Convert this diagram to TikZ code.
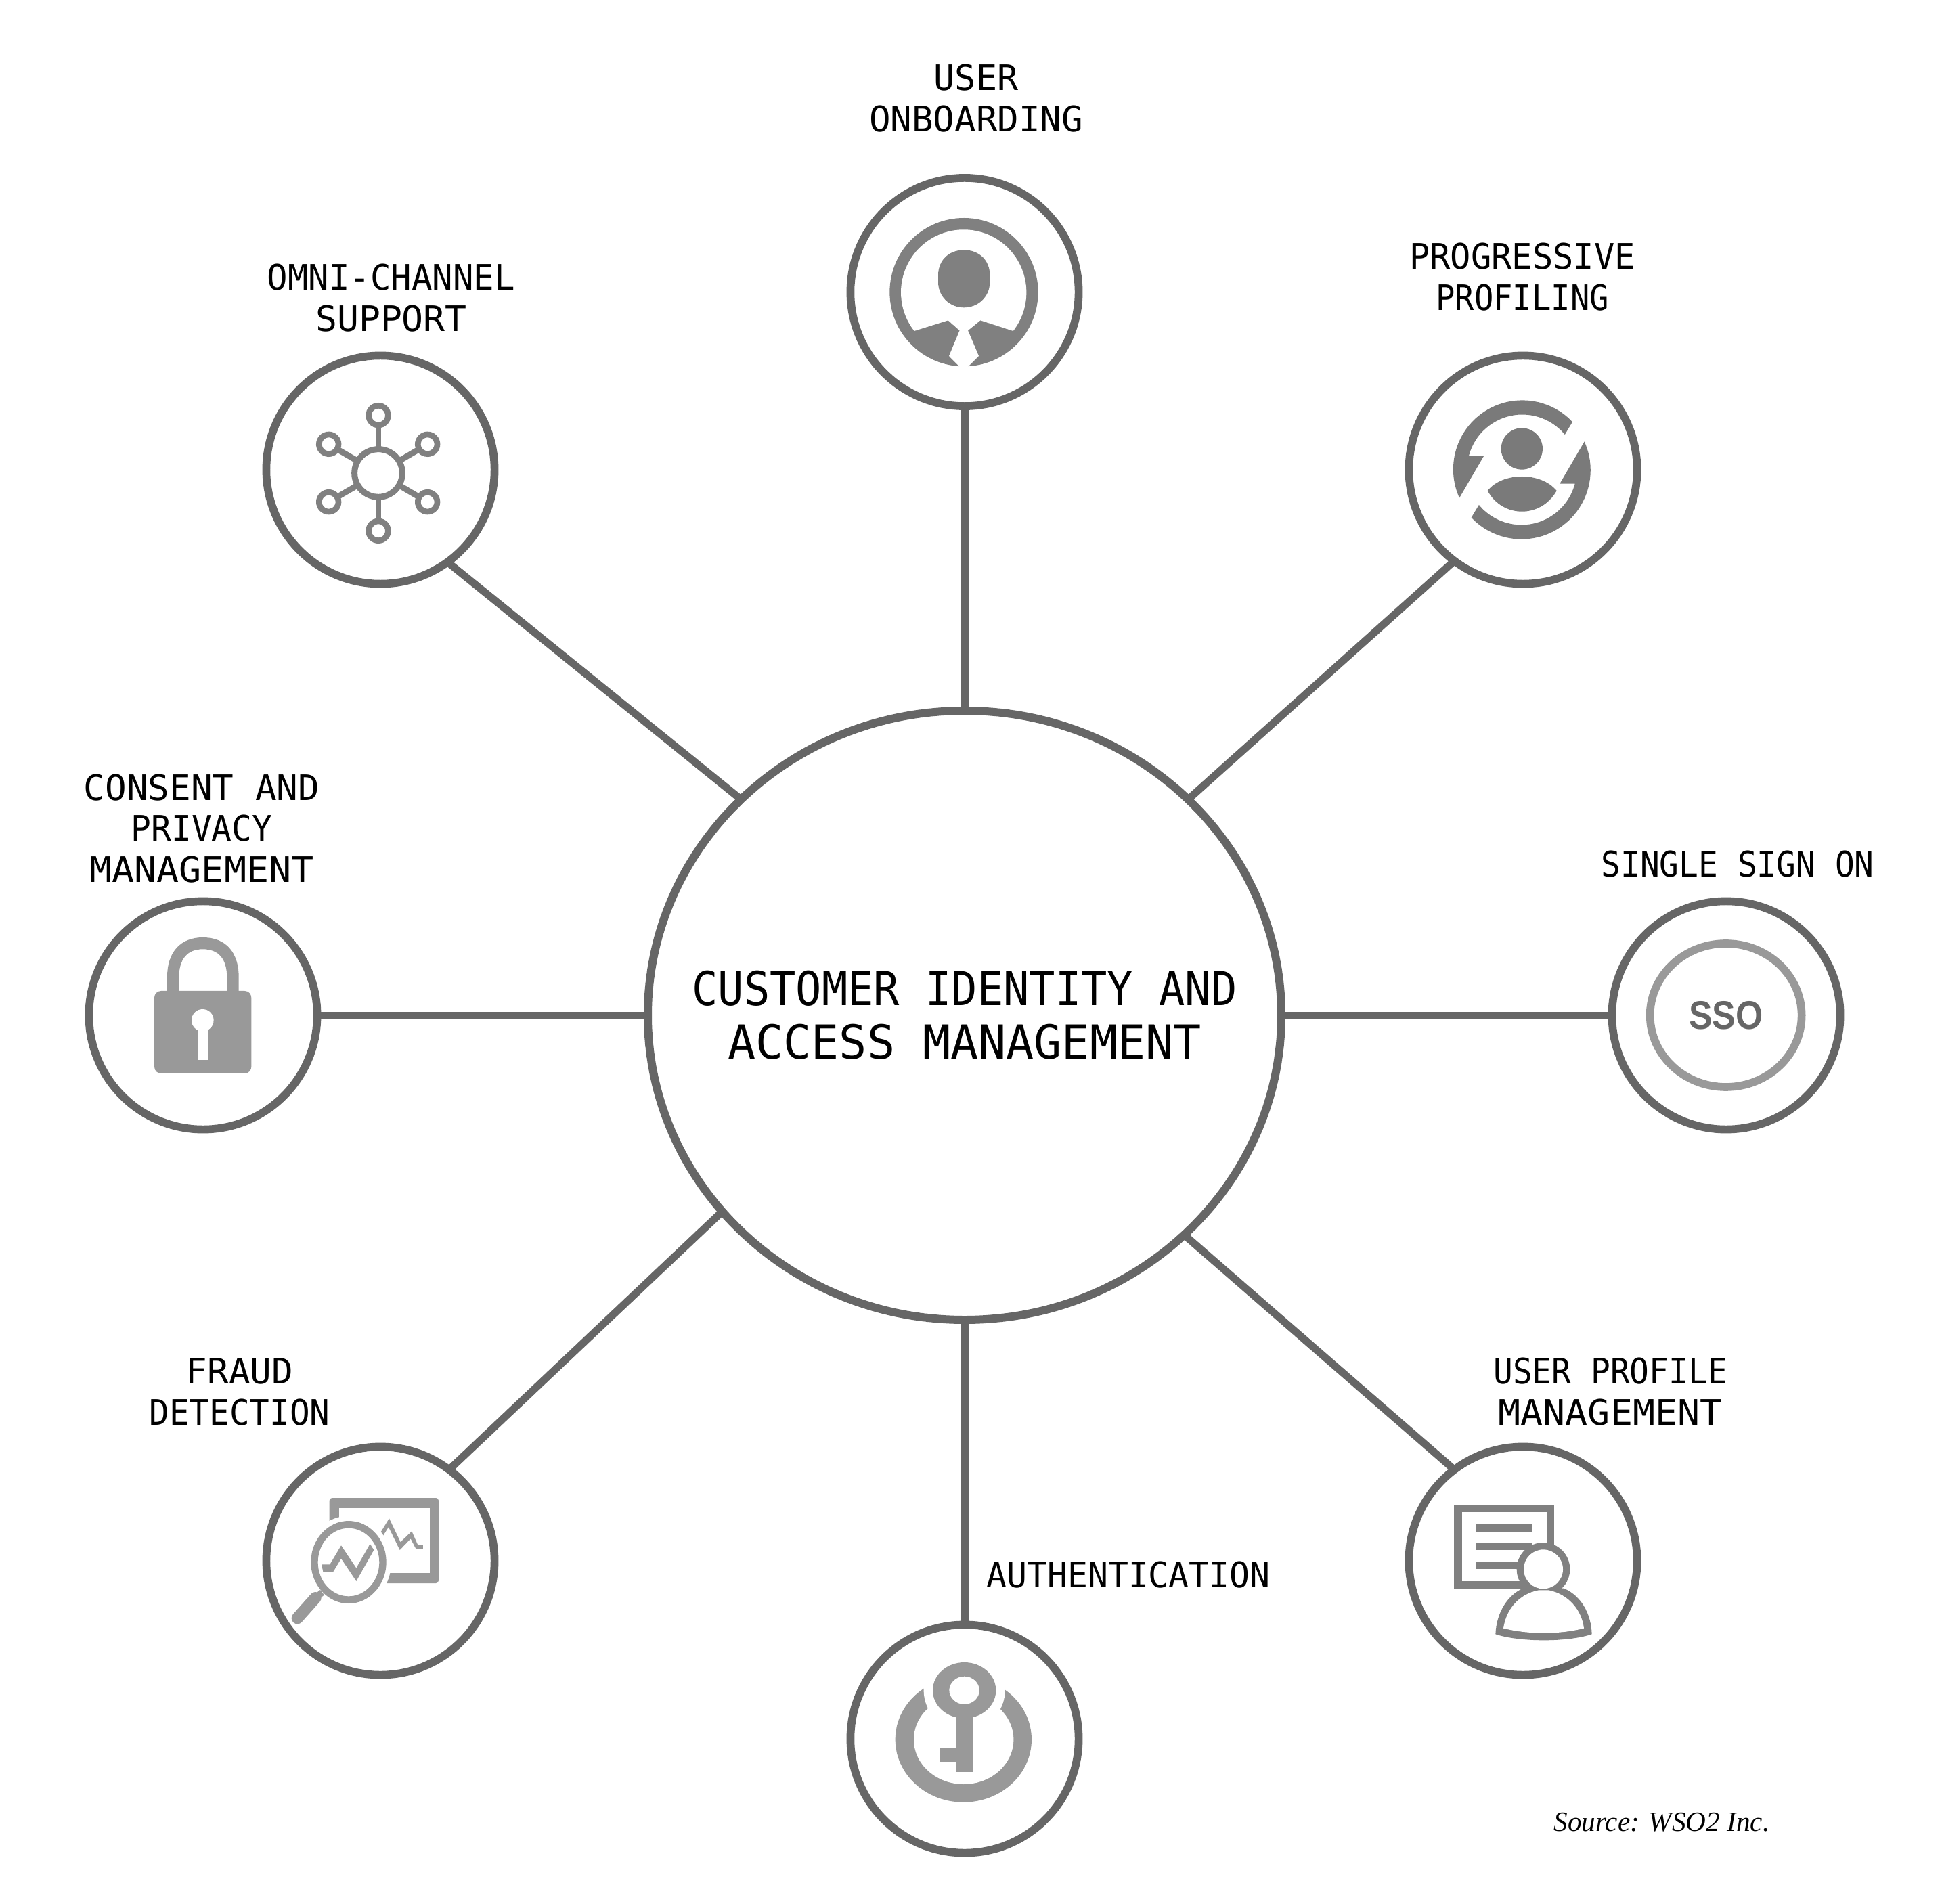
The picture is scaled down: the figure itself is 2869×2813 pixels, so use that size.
\documentclass[tikz,border=0pt]{standalone}
\usepackage{fontspec}
\usepackage{graphicx}
\usetikzlibrary{shapes.geometric}
\newfontfamily\labfont[FakeStretch=0.92]{DejaVu Sans Mono}
\newfontfamily\ssofont[FakeStretch=0.88]{Liberation Sans}
\newfontfamily\srcfont{Liberation Serif}
\definecolor{ringgrey}{HTML}{666666}
\definecolor{icona}{HTML}{808080}
\definecolor{iconb}{HTML}{7A7A7A}
\definecolor{iconc}{HTML}{999999}
\newcommand{\fitw}[2]{\scalebox{#1}[1]{#2}}
\tikzset{
  hub/.style={ellipse,draw=ringgrey,line width=3pt,inner sep=0pt,outer sep=0pt,minimum width=234pt,minimum height=225pt},
  hubtext/.style={align=center,inner sep=0pt,font=\labfont\fontsize{17.3}{19.75}\selectfont,text=black},
  satellite/.style={circle,draw=ringgrey,line width=2.92pt,inner sep=0pt,outer sep=0pt,minimum size=84.3pt},
  caption/.style={align=center,inner sep=0pt,text=black,font=\labfont\fontsize{13}{15.2}\selectfont},
  link/.style={draw=ringgrey,line width=2.75pt},
  crop/.style={x=0.083333pt,y=-0.083333pt}
}
\begin{document}
\begin{tikzpicture}[x=0.25pt,y=-0.25pt]
\path[use as bounding box,fill=white] (0,0) rectangle (2869,2813);

% hub and satellites
\node[hub] (hubc) at (1425,1500) {};
\node[hubtext] (hubt) at (1425,1500) {CUSTOMER IDENTITY AND\\\fitw{1.073}{ACCESS MANAGEMENT}};
\node[satellite] (onb) at (1425,431.5) {};
\node[satellite] (prog) at (2250,694) {};
\node[satellite] (sso) at (2550,1500) {};
\node[satellite] (prof) at (2250,2306) {};
\node[satellite] (auth) at (1425,2569) {};
\node[satellite] (fraud) at (562,2306) {};
\node[satellite] (cons) at (300,1500) {};
\node[satellite] (omni) at (562,694) {};

% connectors
\draw[link] (onb.south) -- (hubc.north);
\draw[link] (prog.233) -- (hubc.44.2);
\draw[link] (sso.west) -- (hubc.east);
\draw[link] (prof.127) -- (hubc.315);
\draw[link] (auth.north) -- (hubc.south);
\draw[link] (fraud.53) -- (hubc.219.1);
\draw[link] (cons.east) -- (hubc.west);
\draw[link] (omni.306) -- (hubc.136.4);

% captions
\node[caption] (t1) at (1442,145) {\fitw{1.08}{USER}\\\fitw{1.096}{ONBOARDING}};
\node[caption] (t2) at (2249,409) {\fitw{1.052}{PROGRESSIVE}\\\fitw{0.986}{PROFILING}};
\node[caption] (t3) at (2567,1277) {SINGLE SIGN ON};
\node[caption] (t4) at (2379,2056) {USER PROFILE\\\fitw{1.147}{MANAGEMENT}};
\node[caption] (t5) at (1667,2327) {\fitw{1.04}{AUTHENTICATION}};
\node[caption] (t6) at (354,2056) {\fitw{1.10}{FRAUD}\\\fitw{1.03}{DETECTION}};
\node[caption] (t7) at (298,1224) {\fitw{1.10}{CONSENT AND}\\\fitw{1.037}{PRIVACY}\\\fitw{1.15}{MANAGEMENT}};
\node[caption] (t8) at (578,440) {\fitw{1.059}{OMNI-CHANNEL}\\\fitw{1.11}{SUPPORT}};
\node[inner sep=0pt,font=\srcfont\itshape\fontsize{10.3}{12}\selectfont] (src) at (2455,2692) {Source: WSO2 Inc.};

% icon: user onboarding
\begin{scope}[shift={(1240,240)},crop]
  \fill[icona] (552,575) circle[radius=329];
  \fill[white] (332,747) arc[start angle=142,end angle=398,radius=278]
     -- (625,700) -- (570,745) -- (618,858) -- (570,906) -- (570,915) -- (533,915) -- (533,906) -- (486,858) -- (533,745) -- (482,700) -- cycle;
  \fill[icona] (438,500) .. controls (438,430) and (490,388) .. (552,388) .. controls (615,388) and (667,430) .. (667,500) -- (667,530)
     .. controls (667,595) and (615,643) .. (552,643) .. controls (490,643) and (438,595) .. (438,530) -- cycle;
\end{scope}

% icon: progressive profiling
\begin{scope}[shift={(2060,510)},crop]
  \fill[iconb] (565,459) circle[radius=92];
  \fill[iconb] (413,645) .. controls (480,561) and (650,561) .. (719,645) .. controls (650,768) and (480,768) .. cycle;
  \fill[iconb] (789,340) arc[start angle=-43.4,end angle=-204.4,radius=306] -- (397,490) -- (330,490)
     arc[start angle=-165.2,end angle=-39.7,radius=245] -- cycle;
  \fill[iconb] (341,764) arc[start angle=136.6,end angle=-24.4,radius=306] -- (733,614) -- (800,614)
     arc[start angle=14.8,end angle=140.3,radius=245] -- cycle;
\end{scope}

% icon: single sign on
\begin{scope}[shift={(2370,1240)},crop]
  \draw[iconc,line width=2.92pt] (539,780) ellipse[x radius=336,y radius=318];
\end{scope}
\node[inner sep=0pt,text=ringgrey,font=\ssofont\bfseries\fontsize{14.7}{16}\selectfont] (ssotext) at (2550,1500) {SSO};

% icon: user profile management
\begin{scope}[shift={(2060,2130)},crop]
  \draw[icona,line width=2.83pt] (282,296) rectangle (691,635);
  \foreach \yy in {381,464,548}{\draw[icona,line width=2.83pt] (362,\yy) -- (611,\yy);}
  \fill[icona] (448,853) .. controls (452,760) and (500,680) .. (570,650) -- (750,650)
     .. controls (825,680) and (872,760) .. (875,853) .. controls (770,889) and (555,889) .. cycle;
  \fill[icona] (660,565) circle[radius=118];
  \fill[white] (483,827) .. controls (495,745) and (550,675) .. (640,658) -- (683,658)
     .. controls (770,675) and (830,745) .. (840,827) .. controls (730,855) and (595,855) .. cycle;
  \fill[white] (660,565) circle[radius=87];
\end{scope}

% icon: authentication
\begin{scope}[shift={(1240,2390)},crop]
  \fill[iconc] (550,540) ellipse[x radius=302,y radius=278];
  \fill[white] (551,540) ellipse[x radius=221,y radius=198];
  \fill[white] (554,322) circle[radius=180];
  \fill[iconc,even odd rule] (554,322) ellipse[x radius=140,y radius=124] (554,322) ellipse[x radius=67,y radius=62];
  \fill[iconc] (515,420) rectangle (594,684);
  \fill[iconc] (447,576) rectangle (515,638);
\end{scope}

% icon: fraud detection
\begin{scope}[shift={(380,2130)},crop]
  \fill[iconc,rounded corners=1pt] (320,249) rectangle (804,627);
  \fill[white] (362,294) rectangle (764,581);
  \fill[iconc] (545,405) -- (585,340) -- (635,445) -- (685,397) -- (712,458) -- (735,458) -- (735,474) -- (703,474) -- (680,430) -- (632,480) -- (582,378) -- (557,418) -- cycle;
  \fill[white] (405,534) ellipse[x radius=189,y radius=205];
  \fill[iconc,even odd rule] (405,534) ellipse[x radius=167,y radius=183] (405,534) ellipse[x radius=136,y radius=151];
  \fill[iconc] (285,544) -- (322,544) -- (372,460) -- (439,560) -- (500,453) -- (517,480) -- (439,618) -- (372,518) -- (337,576) -- (292,576) -- cycle;
  \draw[iconc,line width=4.33pt,line cap=round] (178,782) -- (258,692);
  \draw[iconc,line width=2.4pt] (258,692) -- (288,668);
\end{scope}

% icon: consent and privacy
\begin{scope}[shift={(120,1320)},crop]
  \fill[iconc] (381,432) -- (381,370) .. controls (381,260) and (440,195) .. (539,195) .. controls (640,195) and (698,260) .. (698,370) -- (698,432)
     -- (646,432) -- (646,375) .. controls (646,290) and (610,247) .. (539,247) .. controls (470,247) and (433,290) .. (433,375) -- (433,432) -- cycle;
  \fill[iconc,rounded corners=2.5pt] (324,432) rectangle (754,798);
  \fill[white] (538,562) circle[radius=49];
  \fill[white] (517,590) rectangle (560,738);
\end{scope}

% icon: omni-channel
\begin{scope}[shift={(380,510)},crop]
  \foreach \xx/\yy in {537/311,317/439,755/439,317/695,755/695,537/823}{
    \draw[icona,line width=2.17pt] (537,567) -- (\xx,\yy);
    \draw[icona,line width=2.17pt,fill=white] (\xx,\yy) circle[radius=43];
  }
  \draw[icona,line width=2.25pt,fill=white] (537,567) circle[radius=106];
\end{scope}
\end{tikzpicture}
\end{document}
